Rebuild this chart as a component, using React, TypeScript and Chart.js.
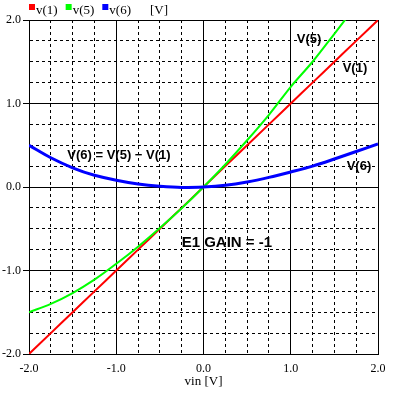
import React, { useEffect, useRef } from 'react';
import { Chart, registerables } from 'chart.js';

Chart.register(...registerables);

// ---- data ----
const vin = [-2, -1.75, -1.5, -1.25, -1, -0.75, -0.5, -0.25, 0, 0.25, 0.5, 0.75, 1, 1.25, 1.5, 1.75, 2];
const v1 = [-2, -1.75, -1.5, -1.25, -1, -0.75, -0.5, -0.25, 0, 0.25, 0.5, 0.75, 1, 1.25, 1.5, 1.75, 2];
const v5 = [-1.5, -1.4, -1.27, -1.11, -0.92, -0.715, -0.492, -0.255, 0, 0.27, 0.56, 0.865, 1.2, 1.5, 1.835, 2.175, 2.515];
const v6 = [0.5, 0.35, 0.23, 0.14, 0.08, 0.035, 0.008, -0.005, 0, 0.02, 0.06, 0.115, 0.18, 0.25, 0.335, 0.425, 0.515];

const seriesNames = ['v(1)', 'v(5)', 'v(6)'];
const seriesColors = ['#ff0000', '#00ff00', '#0000ff'];
const unitLabel = '[V]';
const xTitle = 'vin [V]';
const axisMin = -2;
const axisMax = 2;
const minorStep = 0.25;

const annotations = [
  { text: 'V(5)', x: 1.07, y: 1.73, size: 13 },
  { text: 'V(1)', x: 1.595, y: 1.377, size: 13 },
  { text: 'V(6) = V(5) \u2212 V(1)', x: -1.561, y: 0.335, size: 13 },
  { text: 'V(6)', x: 1.641, y: 0.204, size: 13 },
  { text: 'E1 GAIN = -1', x: -0.25, y: -0.719, size: 15 },
];

const SERIF = "'Liberation Serif', 'Times New Roman', serif";
const SANS = "'Liberation Sans', Arial, sans-serif";

const isMajor = (v: number) => Math.abs(v - Math.round(v)) < 1e-6;

const textPlugin = {
  id: 'textLabels',
  afterDatasetsDraw(chart: any) {
    const ctx = chart.ctx as CanvasRenderingContext2D;
    const xs = chart.scales.x;
    const ys = chart.scales.y;
    ctx.save();
    ctx.fillStyle = '#000';
    ctx.textBaseline = 'alphabetic';
    ctx.textAlign = 'left';
    for (const a of annotations) {
      ctx.font = `bold ${a.size}px ${SANS}`;
      ctx.fillText(a.text, xs.getPixelForValue(a.x), ys.getPixelForValue(a.y));
    }
    // legend
    ctx.font = `13px ${SERIF}`;
    let x = chart.chartArea.left;
    seriesNames.forEach((n, i) => {
      ctx.fillStyle = seriesColors[i];
      ctx.fillRect(x, 4, 6, 6);
      ctx.fillStyle = '#000';
      ctx.fillText(n, x + 7, 14);
      x += 7 + ctx.measureText(n).width + 8;
    });
    ctx.fillText(unitLabel, x + 11, 14);
    ctx.restore();
  },
};

const mk = (ys: number[]) => vin.map((x, i) => ({ x, y: ys[i] }));

export default function App() {
  const ref = useRef<HTMLCanvasElement>(null);
  useEffect(() => {
    document.body.style.margin = '0';
    const tickFont = { family: SERIF, size: 12 };
    const chart = new Chart(ref.current as HTMLCanvasElement, {
      type: 'line',
      data: {
        datasets: [
          { label: seriesNames[0], data: mk(v1), borderColor: seriesColors[0], borderWidth: 2, pointRadius: 0, fill: false, order: 3, cubicInterpolationMode: 'monotone' },
          { label: seriesNames[1], data: mk(v5), borderColor: seriesColors[1], borderWidth: 2, pointRadius: 0, fill: false, order: 2, cubicInterpolationMode: 'monotone' },
          { label: seriesNames[2], data: mk(v6), borderColor: seriesColors[2], borderWidth: 3, pointRadius: 0, fill: false, order: 1, cubicInterpolationMode: 'monotone' },
        ],
      } as any,
      options: {
        animation: false,
        responsive: false,
        maintainAspectRatio: false,
        devicePixelRatio: 1,
        events: [],
        layout: { padding: { left: 0, right: 19, top: 20, bottom: 0 } },
        plugins: { legend: { display: false }, tooltip: { enabled: false } },
        scales: {
          x: {
            type: 'linear',
            min: axisMin,
            max: axisMax,
            afterFit: (s: any) => { s.height = 44; },
            ticks: {
              stepSize: minorStep,
              autoSkip: false,
              maxRotation: 0,
              padding: 3,
              color: '#000',
              font: tickFont,
              callback: (v: any) => (isMajor(Number(v)) ? Number(v).toFixed(1) : ''),
            },
            grid: {
              color: '#000',
              lineWidth: 1,
              drawTicks: true,
              tickLength: 5,
              tickColor: 'rgba(0,0,0,0)',
            },
            border: {
              display: true,
              color: '#000',
              width: 1,
              dash: (c: any) => (c.tick && !isMajor(c.tick.value) ? [3, 3] : []),
            },
            title: {
              display: true,
              text: xTitle,
              color: '#000',
              font: { family: SERIF, size: 13 },
              padding: { top: 0, bottom: 9 },
            },
          },
          y: {
            type: 'linear',
            min: axisMin,
            max: axisMax,
            afterFit: (s: any) => { s.width = 29; },
            ticks: {
              stepSize: minorStep,
              autoSkip: false,
              padding: 2,
              color: '#000',
              font: tickFont,
              callback: (v: any) => (isMajor(Number(v)) ? Number(v).toFixed(1) : ''),
            },
            grid: {
              color: '#000',
              lineWidth: 1,
              drawTicks: true,
              tickLength: 6,
              tickColor: (c: any) => (c.tick && isMajor(c.tick.value) ? '#000' : 'rgba(0,0,0,0)'),
            },
            border: {
              display: true,
              color: '#000',
              width: 1,
              dash: (c: any) => (c.tick && !isMajor(c.tick.value) ? [3, 3] : []),
            },
          },
        },
      } as any,
      plugins: [textPlugin],
    });
    return () => chart.destroy();
  }, []);
  return (
    <div style={{ width: 397, height: 398, background: '#fff' }}>
      <canvas ref={ref} width={397} height={398} style={{ display: 'block' }} />
    </div>
  );
}
